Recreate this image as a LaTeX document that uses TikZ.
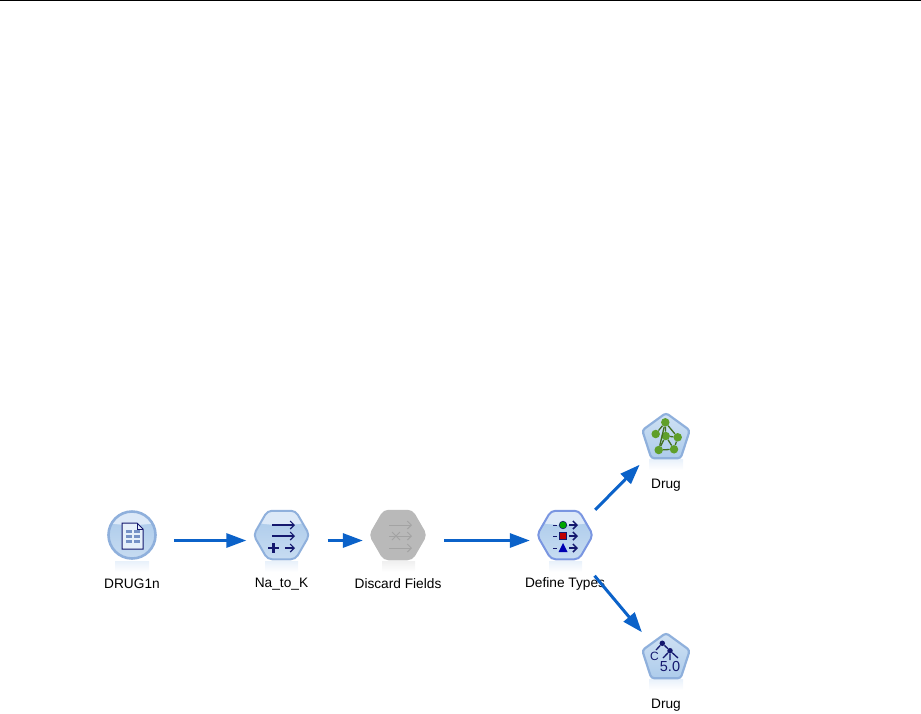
\documentclass[tikz,border=0pt]{standalone}
\usepackage{fontspec}
\setmainfont{Liberation Sans}
\usetikzlibrary{arrows.meta,shapes.geometric}
\definecolor{flowblue}{HTML}{0B62C9}
\definecolor{iconedge}{HTML}{8FB0DC}
\definecolor{iconfill}{HTML}{A9C9EA}
\definecolor{iconlight}{HTML}{DCE9F8}
\definecolor{navy}{HTML}{14186E}
\definecolor{greyfill}{HTML}{B9B9B9}
\definecolor{greymark}{HTML}{A3A3A3}
\definecolor{netgreen}{HTML}{5F9F2A}
\tikzset{
  gloss/.style={path picture={
    \fill[iconlight] ([yshift=23pt]path picture bounding box.center) ellipse (44pt and 13pt);}},
  roundicon/.style={circle,draw=iconedge,line width=2.6pt,top color=iconfill,bottom color=iconfill!65!white,
    minimum size=47pt,inner sep=0pt,gloss},
  hexicon/.style={regular polygon,regular polygon sides=6,draw=iconedge,line width=2pt,top color=iconfill,
    bottom color=iconfill!65!white,minimum size=56pt,inner sep=0pt,rounded corners=4.5pt,gloss},
  penticon/.style={regular polygon,regular polygon sides=5,draw=iconedge,line width=2.2pt,top color=iconfill!55!white,
    bottom color=iconfill!95!white,minimum size=50pt,inner sep=0pt,rounded corners=3pt},
  flow/.style={draw=flowblue,line width=3pt,-{Triangle[length=20pt,width=14pt]},shorten <=17pt,shorten >=6pt},
  reflection/.style={top color=iconlight!65!white,bottom color=white,draw=none},
  glyph/.style={draw=navy,line width=1.1pt,-{Straight Barb[length=4pt,width=8pt]}},
  dotnet/.style={circle,fill=netgreen,minimum size=8.5pt,inner sep=0pt},
  dottree/.style={circle,fill=navy,minimum size=5.5pt,inner sep=0pt}
}
\begin{document}
\begin{tikzpicture}[x=1pt,y=-1pt]

      \useasboundingbox (0,0) rectangle (921,713);

      \coordinate (ruleleft) at (0,0.6);
      \coordinate (ruleright) at (921,0.6);
      \draw[line width=1.2pt] (ruleleft) -- (ruleright);

      \fill[reflection] (115,561) rectangle (149,572);
      \fill[reflection] (265,561) rectangle (298,572);
      \fill[top color=black!6,bottom color=white] (382,561) rectangle (415,572);
      \fill[reflection] (549,561) rectangle (582,572);
      \fill[reflection] (649,459) rectangle (683,470);
      \fill[reflection] (649,679) rectangle (683,690);

      \node[roundicon] (drug1n) at (132,535) {};
      \node[hexicon] (natok) at (281.5,535) {};
      \node[hexicon,draw=greyfill,top color=greyfill,bottom color=greyfill,path picture={}] (discard) at (398,535) {};
      \node[hexicon,draw=iconedge!85!blue] (types) at (565,535) {};
      \node[penticon] (neural) at (666,438) {};
      \node[penticon] (c50) at (666,658) {};

      \begin{scope}[every node/.style={font=\fontsize{13.7}{16}\selectfont}]
        \node (drug1nlabel)  at (132,584)   {DRUG1n};
        \node (natoklabel)   at (281.5,584) {Na\_to\_K};
        \node (discardlabel) at (398,584)   {Discard Fields};
        \node (typeslabel)   at (565,584)   {Define Types};
        \node (neurallabel)  at (666,485)   {Drug};
        \node (c50label)     at (666,705)   {Drug};
      \end{scope}

      % source page
      \filldraw[draw=navy,fill=iconlight!70!white,line width=1pt]
        (122,523) -- (137,523) -- (143,529) -- (143,549) -- (122,549) -- cycle;
      \draw[navy,line width=.8pt] (137,523) -- (137,529) -- (143,529);
      \foreach \y in {530,535,540} {
        \fill[iconedge!80!navy] (125.5,\y) rectangle (131.5,\y+3);
        \fill[iconedge!80!navy] (134,\y) rectangle (140,\y+3);
      }

      % derive
      \draw[glyph] (272,525) -- (295,525);
      \draw[glyph] (272,536) -- (295,536);
      \draw[glyph] (285,548) -- (295,548);
      \draw[navy,line width=2.4pt] (268,548) -- (279,548) (273.5,543) -- (273.5,553);

      % filter
      \begin{scope}[every path/.style={draw=greymark,line width=1pt,-{Straight Barb[length=4pt,width=8pt]}}]
        \path (389,525) -- (412,525);
        \path (389,536) -- (412,536);
        \path (389,548) -- (412,548);
      \end{scope}
      \draw[greymark,line width=1pt] (392,532) -- (400,540) (400,532) -- (392,540);

      % type
      \draw[glyph,line width=1.5pt] (569,525) -- (578,525);
      \draw[glyph,line width=1.5pt] (569,536) -- (578,536);
      \draw[glyph,line width=1.5pt] (569,548) -- (578,548);
      \draw[navy,line width=1pt] (553,525) -- (557,525) (553,536) -- (557,536) (553,548) -- (557,548);
      \filldraw[draw=navy,fill=green!65!black,line width=.6pt] (563,525) circle (3.8);
      \filldraw[draw=navy,fill=red!75!black,line width=.6pt] (559.5,532.5) rectangle (566.5,539.5);
      \fill[blue!70!black] (563,543) -- (567.5,552) -- (558.5,552) -- cycle;

      % neural net
      \begin{scope}[every node/.style={dotnet}]
        \node (n1) at (665.3,422.3) {};
        \node (n2) at (655.7,434)   {};
        \node (n3) at (665.7,436)   {};
        \node (n4) at (677.7,437.3) {};
        \node (n5) at (658.7,450)   {};
        \node (n6) at (674,449.3)   {};
      \end{scope}
      \begin{scope}[every path/.style={draw=netgreen!70!black,line width=1.3pt}]
        \path (n1) -- (n2);
        \path (n1) -- (n3);
        \path (n1) -- (n4);
        \path (n1) -- (n5);
        \path (n3) -- (n4);
        \path (n3) -- (n5);
        \path (n3) -- (n6);
        \path (n4) -- (n6);
        \path (n5) -- (n6);
      \end{scope}

      % c5.0
      \node[dottree] (t1) at (662.3,643.3) {};
      \node[dottree] (t2) at (670,650.7) {};
      \node[text=navy,font=\fontsize{12}{14}\selectfont,inner sep=0pt] (tc) at (654.5,656) {C};
      \node[text=navy,font=\fontsize{14.5}{14}\selectfont,inner sep=0pt] (tnum) at (670,666) {5.0};
      \coordinate (tleft) at (663,658);
      \coordinate (tright) at (678,658);
      \coordinate (tdown) at (670,660);
      \coordinate (tout) at (656,650);
      \draw[navy,line width=1.3pt] (t1) -- (t2) (t1) -- (tout) (t2) -- (tleft) (t2) -- (tright) (t2) -- (tdown);

      \path[flow] ([yshift=-5.5pt]drug1n.east) -- ([yshift=-5.5pt]natok.west);
      \path[flow] ([yshift=-5.5pt]natok.east) -- ([yshift=-5.5pt]discard.west);
      \path[flow] ([yshift=-5.5pt]discard.east) -- ([yshift=-5.5pt]types.west);
      \path[flow,shorten <=43pt,shorten >=37.5pt] ([yshift=-5.5pt]types.center) -- (neural.center);
      \path[flow,shorten <=46pt,shorten >=37.5pt] ([yshift=-5.5pt]types.center) -- ([yshift=-3pt]c50.center);

    \end{tikzpicture}
\end{document}
